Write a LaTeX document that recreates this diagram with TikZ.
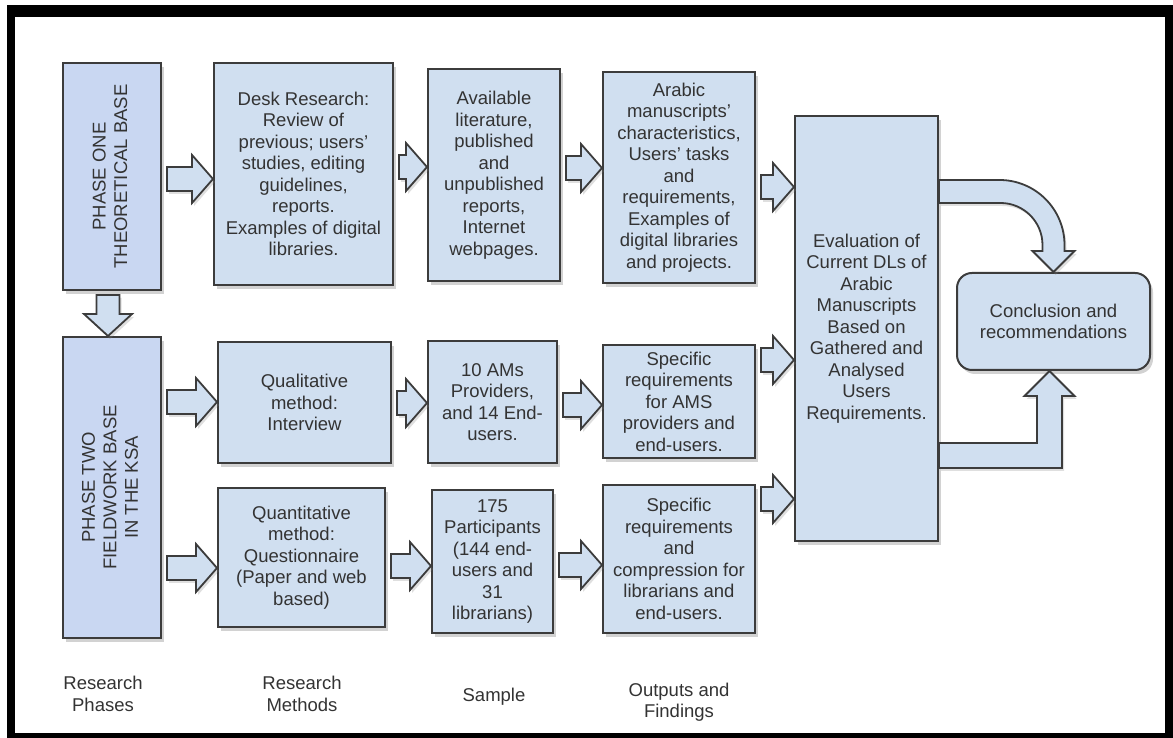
\documentclass[tikz,border=0pt]{standalone}
\usepackage{graphicx}
\usepackage{fontspec}
\setmainfont{Liberation Sans}
\usepackage{tikz}
\usetikzlibrary{calc,shadows}
\definecolor{boxfill}{HTML}{D0DFF0}
\definecolor{phasefill}{HTML}{C9D7F2}
\definecolor{boxline}{HTML}{3C3C3C}
\definecolor{txt}{HTML}{333333}
\newcommand{\bodyfont}{\fontsize{18.5}{21.5}\selectfont}
\tikzset{
  stage/.style={draw=boxline,fill=boxfill,line width=2pt,align=center,
                inner sep=0pt,text=txt,font=\bodyfont,
                drop shadow={shadow xshift=3pt,shadow yshift=-4pt,opacity=0.35}},
  phase/.style={stage,fill=phasefill},
  finalbox/.style={stage,rounded corners=15pt},
  caption/.style={align=center,text=txt,font=\bodyfont},
  blockarr/.style={draw=boxline,fill=boxfill,line width=1.8pt,line join=miter,
                   drop shadow={shadow xshift=2pt,shadow yshift=-3pt,opacity=0.25}}
}
\newcommand{\hblock}[3]{%
  \draw[blockarr] let \p1=(#1.east), \p2=(#2.west) in
    (\x1+5,#3+12) -- (\x2-21,#3+12) -- (\x2-21,#3+24) -- (\x2,#3)
    -- (\x2-21,#3-24) -- (\x2-21,#3-12) -- (\x1+5,#3-12) -- cycle;}

\begin{document}
\begin{tikzpicture}[x=1pt,y=1pt]
    \path[use as bounding box] (0,0) rectangle (1173,738);
    \fill[black] (7,0) rectangle (1173,733);
    \fill[white] (15,5) rectangle (1165,721);

    \node[phase,minimum width=98,minimum height=227] (ph1) at (112,561.5)
      {\rotatebox{90}{\begin{tabular}{@{}c@{}}PHASE ONE\\THEORETICAL BASE\end{tabular}}};
    \node[phase,minimum width=98,minimum height=301] (ph2) at (112,250.5)
      {\rotatebox{90}{\begin{tabular}{@{}c@{}}PHASE TWO\\FIELDWORK BASE\\IN THE KSA\end{tabular}}};

    \node[stage,minimum width=179,minimum height=222] (desk) at (303.5,564)
      {Desk Research:\\Review of\\previous; users'\\studies, editing\\guidelines,\\reports.\\Examples of digital\\libraries.};
    \node[stage,minimum width=132,minimum height=212] (avail) at (494,563)
      {Available\\literature,\\published\\and\\unpublished\\reports,\\Internet\\webpages.};
    \node[stage,minimum width=152,minimum height=211] (arab) at (679,560.5)
      {Arabic\\manuscripts'\\characteristics,\\Users' tasks\\and\\requirements,\\Examples of\\digital libraries\\and projects.};

    \node[stage,minimum width=173,minimum height=121] (qual) at (304.5,335.5)
      {Qualitative\\method:\\Interview};
    \node[stage,minimum width=129,minimum height=122] (ams) at (492.5,336)
      {10 AMs\\Providers,\\and 14 End-\\users.};
    \node[stage,minimum width=152,minimum height=113] (specams) at (679,336.5)
      {Specific\\requirements\\for AMS\\providers and\\end-users.};

    \node[stage,minimum width=167,minimum height=139] (quant) at (301.5,180.5)
      {Quantitative\\method:\\Questionnaire\\(Paper and web\\based)};
    \node[stage,minimum width=121,minimum height=143] (sample) at (492.5,176.5)
      {175\\Participants\\(144 end-\\users and\\31\\librarians)};
    \node[stage,minimum width=152,minimum height=148] (speclib) at (679,179)
      {Specific\\requirements\\and\\compression for\\librarians and\\end-users.};

    \node[stage,minimum width=143,minimum height=425] (eval) at (866.5,409.5)
      {Evaluation of\\Current DLs of\\Arabic\\Manuscripts\\Based on\\Gathered and\\Analysed\\Users\\Requirements.};
    \node[finalbox,minimum width=193,minimum height=97] (concl) at (1053.5,416.5)
      {Conclusion and\\recommendations};

    \node[caption] (capphase) at (103,44) {Research\\Phases};
    \node[caption] (capmethod) at (302,44) {Research\\Methods};
    \node[caption] (capsample) at (494,41) {Sample};
    \node[caption] (capout) at (679,36) {Outputs and\\Findings};

    \hblock{ph1}{desk}{559}
    \hblock{desk}{avail}{571}
    \hblock{avail}{arab}{570}
    \hblock{arab}{eval}{551}
    \hblock{ph2}{qual}{336}
    \hblock{qual}{ams}{335}
    \hblock{ams}{specams}{333}
    \hblock{specams}{eval}{378}
    \hblock{ph2}{quant}{170}
    \hblock{quant}{sample}{172}
    \hblock{sample}{speclib}{173}
    \hblock{speclib}{eval}{239}

    \draw[blockarr] let \p1=(ph1.south), \p2=(ph2.north) in
      (\x1-15.5,\y1-4) -- (\x1-15.5,\y2+22) -- (\x1-28,\y2+22) -- (\x1-4,\y2)
      -- (\x1+20,\y2+22) -- (\x1+7.5,\y2+22) -- (\x1+7.5,\y1-4) -- cycle;

    \draw[blockarr] let \p1=(eval.east), \p2=(concl.north) in
      (\x1,558) -- (\x2-54,558) arc[start angle=90,end angle=0,radius=65]
      -- (\x2+11,\y2+21) -- (\x2+21,\y2+21) -- (\x2,\y2) -- (\x2-21,\y2+21)
      -- (\x2-11,\y2+21) -- (\x2-11,493) arc[start angle=0,end angle=90,radius=42]
      -- (\x1,535) -- cycle;

    \draw[blockarr] let \p1=(eval.east), \p2=(concl.south) in
      (\x1,295) -- (\x2-16.5,295) -- (\x2-16.5,\y2-25) -- (\x2-29,\y2-25)
      -- (\x2-4,\y2) -- (\x2+21,\y2-25) -- (\x2+8.5,\y2-25) -- (\x2+8.5,270)
      -- (\x1,270) -- cycle;
  \end{tikzpicture}
\end{document}
